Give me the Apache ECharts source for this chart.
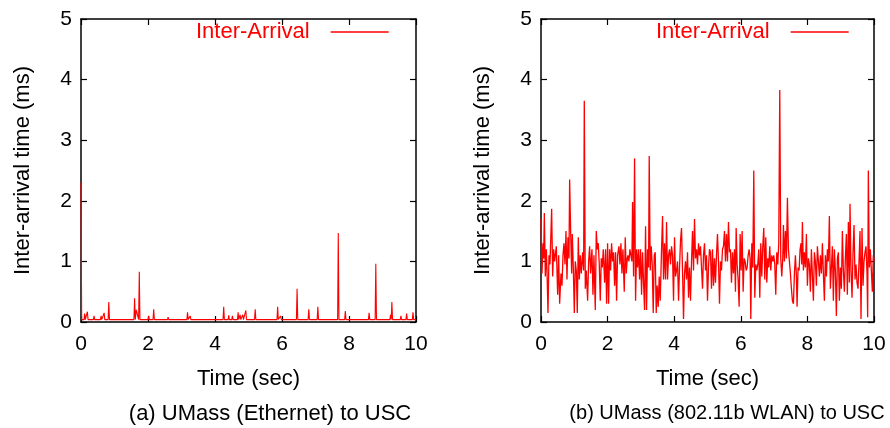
<!DOCTYPE html>
<html>
<head>
<meta charset="utf-8">
<script src="https://cdn.jsdelivr.net/npm/echarts@6/dist/echarts.min.js"></script>
<style>
  html, body { margin: 0; padding: 0; background: #fff; }
  #chart { width: 890px; height: 428px; }
</style>
</head>
<body>
<div id="chart"></div>
<script>
// (a) Ethernet: flat baseline with spikes
const ethTime = [
  0, 0.02, 0.09, 0.11, 0.13, 0.17, 0.19, 0.21, 0.37, 0.39, 0.41, 0.58, 0.6, 0.62,
  0.67, 0.69, 0.71, 0.81, 0.83, 0.85, 1.58, 1.6, 1.62, 1.65, 1.72, 1.74, 1.76,
  1.84, 1.86, 1.88, 2.0, 2.02, 2.04, 2.15, 2.17, 2.19, 2.58, 2.6, 2.62, 3.16,
  3.18, 3.2, 3.24, 3.26, 3.28, 4.24, 4.26, 4.28, 4.39, 4.41, 4.43, 4.5, 4.52,
  4.54, 4.67, 4.69, 4.71, 4.75, 4.77, 4.81, 4.83, 4.85, 4.9, 4.92, 4.94, 5.18,
  5.2, 5.22, 5.66, 5.68, 5.7, 5.85, 5.87, 5.89, 5.94, 5.96, 5.98, 6.43, 6.45,
  6.47, 6.78, 6.8, 6.82, 7.05, 7.07, 7.09, 7.66, 7.68, 7.7, 7.87, 7.89, 7.91,
  8.58, 8.6, 8.62, 8.78, 8.8, 8.82, 9.22, 9.24, 9.26, 9.28, 9.3, 9.53, 9.55,
  9.57, 9.7, 9.72, 9.74, 9.89, 9.91, 9.93, 10
]
const ethDelay = [
  2.3, 0.04, 0.04, 0.14, 0.04, 0.04, 0.17, 0.04, 0.04, 0.1, 0.04, 0.04, 0.1, 0.04,
  0.04, 0.15, 0.04, 0.04, 0.33, 0.04, 0.04, 0.39, 0.04, 0.2, 0.04, 0.83, 0.04,
  0.04, 0.07, 0.04, 0.04, 0.1, 0.04, 0.04, 0.21, 0.04, 0.04, 0.08, 0.04, 0.04,
  0.16, 0.04, 0.04, 0.1, 0.04, 0.04, 0.25, 0.04, 0.04, 0.11, 0.04, 0.04, 0.1,
  0.04, 0.04, 0.16, 0.04, 0.12, 0.04, 0.04, 0.12, 0.04, 0.04, 0.19, 0.04, 0.04,
  0.21, 0.04, 0.04, 0.07, 0.04, 0.04, 0.25, 0.04, 0.04, 0.1, 0.04, 0.04, 0.55,
  0.04, 0.04, 0.21, 0.04, 0.04, 0.25, 0.04, 0.04, 1.47, 0.04, 0.04, 0.18, 0.04,
  0.04, 0.15, 0.04, 0.04, 0.96, 0.04, 0.04, 0.12, 0.04, 0.33, 0.04, 0.04, 0.1,
  0.04, 0.04, 0.14, 0.04, 0.04, 0.16, 0.04, 0.04
]

// (b) 802.11b WLAN: noisy around 1 ms
const wlanTime = [
  0, 0.03, 0.06, 0.08, 0.1, 0.13, 0.16, 0.18, 0.21, 0.24, 0.27, 0.32, 0.35, 0.38,
  0.41, 0.46, 0.5, 0.53, 0.56, 0.6, 0.63, 0.66, 0.69, 0.72, 0.75, 0.78, 0.81,
  0.84, 0.86, 0.89, 0.92, 0.94, 0.97, 1.0, 1.03, 1.06, 1.09, 1.12, 1.15, 1.18,
  1.21, 1.25, 1.28, 1.3, 1.33, 1.36, 1.4, 1.43, 1.46, 1.49, 1.53, 1.56, 1.59,
  1.63, 1.66, 1.69, 1.72, 1.75, 1.78, 1.81, 1.84, 1.87, 1.91, 1.94, 1.97, 2.0,
  2.03, 2.06, 2.09, 2.12, 2.15, 2.18, 2.21, 2.24, 2.27, 2.3, 2.34, 2.37, 2.4,
  2.43, 2.46, 2.5, 2.53, 2.56, 2.59,
  2.61, 2.64, 2.67, 2.7, 2.73, 2.75, 2.78, 2.81, 2.84, 2.87, 2.9, 2.93, 2.96,
  2.99, 3.02, 3.05, 3.08, 3.11, 3.14, 3.17, 3.2, 3.23, 3.25, 3.28, 3.31, 3.34,
  3.37, 3.4, 3.43, 3.46, 3.49, 3.52, 3.55, 3.58, 3.62, 3.65, 3.68, 3.71, 3.74,
  3.77, 3.8, 3.83, 3.86, 3.89, 3.92, 3.95, 3.98, 4.01, 4.04, 4.07, 4.1, 4.13,
  4.16, 4.19, 4.22, 4.25, 4.28, 4.31, 4.34, 4.37, 4.4, 4.43, 4.46, 4.49, 4.52,
  4.55, 4.58, 4.61, 4.64, 4.67, 4.7, 4.73, 4.76, 4.79, 4.82, 4.85, 4.88, 4.91,
  4.94, 4.97, 5.0, 5.03, 5.06, 5.09, 5.12,
  5.15, 5.18, 5.21, 5.24, 5.27, 5.3, 5.33, 5.36, 5.39, 5.42, 5.45, 5.48, 5.51,
  5.54, 5.57, 5.6, 5.63, 5.66, 5.69, 5.72, 5.75, 5.78, 5.81, 5.84, 5.86, 5.89,
  5.92, 5.95, 5.98, 6.01, 6.04, 6.07, 6.1, 6.13, 6.16, 6.19, 6.22, 6.25, 6.28,
  6.3, 6.33, 6.36, 6.39, 6.42, 6.45, 6.48, 6.51, 6.54, 6.57, 6.6, 6.63, 6.66,
  6.69, 6.72, 6.75, 6.78, 6.81, 6.84, 6.87, 6.9, 6.93, 6.96, 6.99, 7.02, 7.05,
  7.08, 7.11, 7.14, 7.17, 7.2, 7.23, 7.26, 7.28, 7.31, 7.34, 7.37, 7.4, 7.43,
  7.46, 7.49, 7.52, 7.55, 7.58, 7.61, 7.64,
  7.67, 7.69, 7.72, 7.75, 7.78, 7.81, 7.83, 7.85, 7.88, 7.91, 7.94, 7.97, 8.0,
  8.03, 8.06, 8.09, 8.12, 8.15, 8.18, 8.21, 8.24, 8.27, 8.3, 8.33, 8.36, 8.39,
  8.42, 8.45, 8.48, 8.51, 8.54, 8.57, 8.6, 8.63, 8.66, 8.69, 8.72, 8.75, 8.78,
  8.81, 8.84, 8.87, 8.9, 8.93, 8.96, 8.99, 9.02, 9.05, 9.08, 9.11, 9.14, 9.17,
  9.2, 9.23, 9.26, 9.28, 9.31, 9.34, 9.37, 9.4, 9.43, 9.46, 9.49, 9.52, 9.55,
  9.58, 9.61, 9.64, 9.67, 9.7, 9.73, 9.76, 9.79, 9.81, 9.83, 9.86, 9.89, 9.92,
  9.95, 9.98, 10
]
const wlanDelay = [
  1.7, 0.8, 1.3, 1.05, 1.8, 0.75, 1.2, 0.85, 0.15, 1.1, 0.95, 1.87, 0.75, 1.2,
  1.0, 1.25, 0.45, 1.1, 0.3, 0.8, 0.6, 1.1, 1.3, 0.95, 1.5, 0.7, 1.4,
  1.05, 2.35, 1.5, 0.8, 1.45, 0.9, 0.15, 1.0, 0.85, 0.15, 1.4, 0.7, 1.1,
  0.8, 1.15, 0.85, 3.65, 0.55, 0.85, 0.35, 1.0, 1.25, 0.8, 1.2, 0.45, 1.1,
  0.2, 1.5, 1.2, 1.3, 0.95, 0.35, 1.05, 0.9, 1.2, 0.65, 1.2, 0.3, 1.3,
  0.3, 1.2, 0.85, 1.3, 1.0, 1.15, 0.6, 1.15, 0.35, 1.1, 1.25, 0.95, 1.3,
  0.8, 1.2, 0.5, 1.4, 0.8, 1.05,
  1.1, 1.0, 1.2, 1.1, 1.0, 1.98, 0.75, 2.7, 0.35, 1.2, 0.9, 1.2, 0.7,
  1.2, 0.45, 1.15, 0.65, 0.2, 1.58, 0.2, 1.2, 0.9, 2.74, 0.85, 1.25, 0.95,
  0.15, 1.1, 1.15, 0.15, 0.6, 0.25, 0.75, 0.35, 1.2, 1.75, 0.7, 1.3, 0.7,
  1.65, 0.7, 1.1, 1.2, 0.95, 1.25, 1.1, 0.35, 1.4, 0.75, 0.85, 1.0, 0.35,
  0.9, 1.35, 1.55, 0.85, 0.05, 0.8, 1.0, 0.7, 1.15, 0.4, 0.9, 0.35, 1.0,
  1.5, 0.85, 1.7, 1.05, 1.2, 0.95, 1.3, 1.1, 1.25, 0.9, 0.55, 1.1, 1.3,
  0.85, 1.1, 0.35, 0.9, 1.2, 1.15, 0.55,
  1.2, 0.6, 1.05, 0.65, 1.1, 1.45, 1.0, 0.3, 1.0, 0.85, 1.2, 1.25, 1.5,
  1.0, 1.45, 1.0, 1.65, 1.15, 1.2, 0.65, 1.15, 0.8, 1.2, 0.5, 1.55, 0.95,
  0.7, 0.25, 1.45, 0.85, 1.5, 0.5, 1.05, 1.0, 0.85, 0.9, 1.1, 1.2, 1.05,
  0.05, 1.3, 0.9, 2.5, 0.4, 0.95, 0.85, 0.95, 1.2, 0.4, 1.3, 0.75, 1.25,
  1.55, 0.7, 1.4, 0.65, 1.05, 0.9, 1.25, 0.85, 1.1, 1.0, 1.1, 0.95, 0.45,
  1.15, 0.95, 1.3, 3.83, 1.05, 0.75, 1.05, 1.6, 1.0, 1.5, 1.05, 2.05, 1.2,
  1.0, 0.8, 0.55, 0.35, 0.3, 0.8, 1.1,
  0.75, 0.25, 0.9, 0.85, 1.2, 1.3, 0.95, 1.65, 0.85, 1.15, 0.9, 1.45, 0.6,
  1.05, 0.95, 0.5, 1.2, 1.2, 0.35, 1.15, 1.0, 0.6, 1.25, 1.0, 0.75, 1.1,
  0.8, 1.3, 0.8, 0.35, 1.1, 0.75, 1.2, 1.0, 1.75, 0.55, 0.9, 1.25, 0.35,
  1.2, 0.85, 0.1, 1.05, 1.15, 0.35, 0.9, 0.55, 1.5, 0.85, 0.5, 1.05, 1.45,
  0.45, 1.65, 0.65, 1.95, 0.85, 0.4, 1.15, 1.6, 0.7, 0.95, 0.65, 0.55, 1.0,
  1.5, 0.05, 1.55, 0.6, 1.0, 1.15, 1.25, 0.8, 0.08, 2.5, 0.9, 1.2, 0.85,
  0.5, 1.1, 1.0
]

const xTicks = [0, 2, 4, 6, 8, 10]
const yTicks = [0, 1, 2, 3, 4, 5]
const seriesName = "Inter-Arrival"
const captions = ["(a) UMass (Ethernet) to USC", "(b) UMass (802.11b WLAN) to USC"]

const font = "Liberation Sans, Arial, Helvetica, sans-serif"
const red = "#ff0000"

const zip = (xs, ys) => xs.map((x, i) => [x, ys[i]])

const chart = echarts.init(document.getElementById("chart"))

// grid positions for the two panels
const grids = [
  { left: 81, top: 19, width: 335, height: 303 },
  { left: 541, top: 19, width: 333, height: 303 },
]

const xAxes = []
const yAxes = []
grids.forEach((g, i) => {
  const common = {
    gridIndex: i,
    type: "value",
    splitLine: { show: false },
    axisLine: { show: true, onZero: false, lineStyle: { color: "#000", width: 1.5 } },
    axisTick: { show: true, inside: true, length: 6, lineStyle: { color: "#000", width: 1.2 } },
  }
  xAxes.push({
    ...common,
    position: "bottom",
    min: xTicks[0],
    max: xTicks[xTicks.length - 1],
    interval: xTicks[1] - xTicks[0],
    axisLabel: { color: "#000", fontSize: 21, fontFamily: font, margin: 12 },
    name: "Time (sec)",
    nameLocation: "middle",
    nameGap: 46,
    nameTextStyle: { color: "#000", fontSize: 22, fontFamily: font },
  })
  xAxes.push({
    ...common,
    position: "top",
    min: xTicks[0],
    max: xTicks[xTicks.length - 1],
    interval: xTicks[1] - xTicks[0],
    axisLabel: { show: false },
  })
  yAxes.push({
    ...common,
    position: "left",
    min: yTicks[0],
    max: yTicks[yTicks.length - 1],
    interval: yTicks[1] - yTicks[0],
    axisLabel: { color: "#000", fontSize: 21, fontFamily: font, margin: 9 },
    name: "Inter-arrival time (ms)",
    nameLocation: "middle",
    nameGap: 47,
    nameTextStyle: { color: "#000", fontSize: 22, fontFamily: font },
  })
  yAxes.push({
    ...common,
    position: "right",
    min: yTicks[0],
    max: yTicks[yTicks.length - 1],
    interval: yTicks[1] - yTicks[0],
    axisLabel: { show: false },
  })
})

const legendBase = {
  data: [seriesName],
  top: 21,
  padding: 0,
  align: "right",
  icon: "rect",
  itemWidth: 58,
  itemHeight: 1.5,
  selectedMode: false,
  textStyle: { color: red, fontSize: 22, fontFamily: font, padding: [0, 16, 0, 0] },
}

// captions under each panel
const captionPos = [
  { x: 270, size: 22 },
  { x: 727, size: 20 },
]

const option = {
  animation: false,
  backgroundColor: "#fff",
  grid: grids,
  xAxis: xAxes,
  yAxis: yAxes,
  legend: [
    { ...legendBase, left: 196 },
    { ...legendBase, left: 656 },
  ],
  title: captions.map((c, i) => ({
    text: c,
    left: captionPos[i].x,
    top: 403,
    padding: 0,
    textAlign: "center",
    textStyle: { color: "#000", fontSize: captionPos[i].size, fontWeight: "normal", fontFamily: font },
  })),
  series: [
    {
      name: seriesName,
      type: "line",
      xAxisIndex: 0,
      yAxisIndex: 0,
      symbol: "none",
      color: red,
      lineStyle: { color: red, width: 1.1 },
      data: zip(ethTime, ethDelay),
    },
    {
      name: seriesName,
      type: "line",
      xAxisIndex: 2,
      yAxisIndex: 2,
      symbol: "none",
      color: red,
      lineStyle: { color: red, width: 1.3 },
      data: zip(wlanTime, wlanDelay),
    },
  ],
}

chart.setOption(option)
</script>
</body>
</html>
